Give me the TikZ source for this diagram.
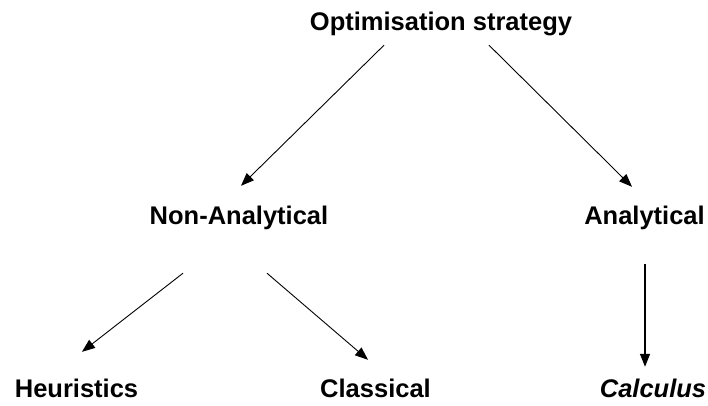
\documentclass[tikz,border=0pt]{standalone}
\usepackage{fontspec}
\setmainfont{Liberation Sans}
\usetikzlibrary{arrows.meta}

\tikzset{
  lbl/.style={anchor=base, inner sep=0pt, text height=19pt, text depth=5.5pt,
    font=\fontsize{25.5}{30}\selectfont\bfseries},
  arr/.style={-{Triangle[length=13pt,width=10pt]}, line width=0.9pt}
}

\begin{document}
\begin{tikzpicture}[x=1pt,y=-1pt]

\useasboundingbox (0,0) rectangle (708,406);

% Top level
\node[lbl] (opt) at (441,31) {Optimisation strategy};

% Second level
\node[lbl] (nonan) at (239,224) {Non-Analytical};
\node[lbl] (an) at (644.5,224) {Analytical};

% Third level
\node[lbl] (heur) at (76.5,397) {Heuristics};
\node[lbl] (class) at (375.5,397) {Classical};
\node[lbl, font=\fontsize{25.5}{30}\selectfont\bfseries\itshape] (calc) at (653,397) {Calculus};

% Arrows
\draw[arr] ([xshift=-57pt,yshift=-8.5pt]opt.south) -- ([xshift=2pt,yshift=19pt]nonan.north);
\draw[arr] ([xshift=48pt,yshift=-8.5pt]opt.south) -- ([xshift=-12.5pt,yshift=18pt]an.north);
\draw[arr] ([xshift=-56pt,yshift=-43.5pt]nonan.south) -- ([xshift=5.5pt,yshift=26pt]heur.north);
\draw[arr] ([xshift=28pt,yshift=-43.5pt]nonan.south) -- ([xshift=-7.5pt,yshift=18pt]class.north);
\draw[arr, line width=1.4pt] ([xshift=0.5pt,yshift=-34.5pt]an.south) -- ([xshift=-8pt,yshift=11pt]calc.north);

\end{tikzpicture}
\end{document}
